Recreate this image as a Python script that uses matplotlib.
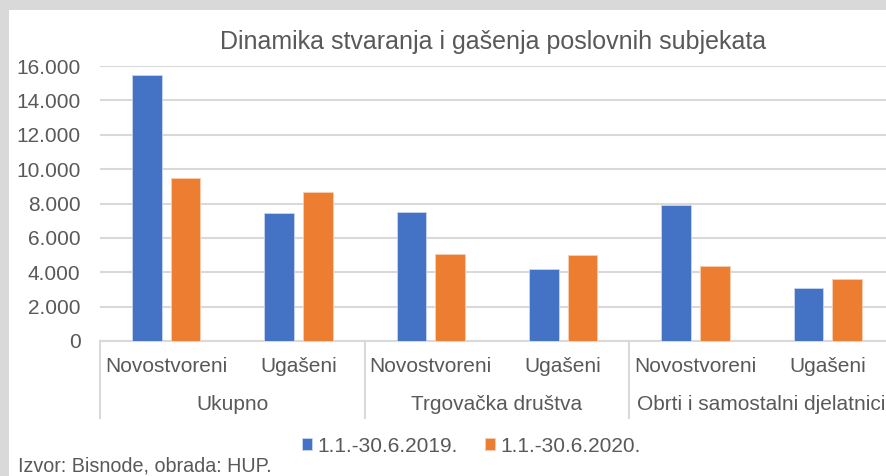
import matplotlib.pyplot as plt
from matplotlib.patches import Rectangle
from matplotlib.transforms import blended_transform_factory
import numpy as np

# ============== data ==============
sub_labels = ['Novostvoreni', 'Ugašeni', 'Novostvoreni', 'Ugašeni', 'Novostvoreni', 'Ugašeni']
group_labels = ['Ukupno', 'Trgovačka društva', 'Obrti i samostalni djelatnici']
series_names = ['1.1.-30.6.2019.', '1.1.-30.6.2020.']
v2019 = [15500, 7450, 7500, 4200, 7900, 3100]
v2020 = [9500, 8650, 5050, 5000, 4350, 3600]
y_ticks = [0, 2000, 4000, 6000, 8000, 10000, 12000, 14000, 16000]

BLUE = '#4472C4'
ORANGE = '#ED7D31'
TXT = '#595959'
GRID = '#d9d9d9'
FS = 15

plt.rcParams['font.family'] = ['Liberation Sans', 'DejaVu Sans']

W, H = 887, 476
fig = plt.figure(figsize=(W / 100, H / 100), dpi=100)
fig.patch.set_facecolor(GRID)
# white chart area (grey frame on top/left)
fig.patches.append(Rectangle((9 / W, 0), 1, (H - 10) / H, transform=fig.transFigure,
                             facecolor='white', edgecolor='none', zorder=-5))

ax = fig.add_axes([100 / W, (H - 341) / H, 794 / W, 275 / H])
ax.set_facecolor('none')

x = np.arange(len(sub_labels))
off, bw = 0.146, 0.223
b1 = ax.bar(x - off, v2019, bw, color=BLUE, edgecolor='#c9d6ee', linewidth=0.6, zorder=3,
            label=series_names[0])
b2 = ax.bar(x + off, v2020, bw, color=ORANGE, edgecolor='#f8cfb3', linewidth=0.6, zorder=3,
            label=series_names[1])

ax.set_xlim(-0.5, 5.5)
ax.set_ylim(0, 16000)
ax.set_yticks(y_ticks)
ax.set_yticklabels([f'{v:,}'.replace(',', '.') for v in y_ticks], fontsize=FS, color=TXT)
ax.tick_params(axis='y', length=0, pad=14)
ax.set_xticks([])
ax.yaxis.grid(True, color=GRID, linewidth=1.5, zorder=0)
ax.set_axisbelow(True)
for s in ['top', 'right', 'left']:
    ax.spines[s].set_visible(False)
ax.spines['bottom'].set_color(GRID)
ax.spines['bottom'].set_linewidth(1.5)

# multi-level category axis
tr = blended_transform_factory(ax.transData, ax.transAxes)
for i, lab in enumerate(sub_labels):
    ax.text(i, -26 / 275, lab, transform=tr, ha='center', va='center',
            fontsize=FS, color=TXT, clip_on=False)
for g, lab in enumerate(group_labels):
    ax.text(2 * g + 0.5, -64 / 275, lab, transform=tr, ha='center', va='center',
            fontsize=FS, color=TXT, clip_on=False)
for xs in [-0.5, 1.5, 3.5, 5.5]:
    ax.plot([xs, xs], [0, -77 / 275], transform=tr, color=GRID, linewidth=1.5,
            clip_on=False, zorder=1)

fig.text(493.5 / W, 1 - 42 / H, 'Dinamika stvaranja i gašenja poslovnih subjekata',
         ha='center', va='center', fontsize=18, color=TXT)

fig.legend(handles=[b1, b2], loc='center', bbox_to_anchor=(471.5 / W, 1 - 446 / H),
           ncol=2, frameon=False, fontsize=FS, handlelength=0.5, handleheight=0.5,
           handletextpad=0.25, columnspacing=1.3, labelcolor=TXT)

fig.text(18 / W, 1 - 466 / H, 'Izvor: Bisnode, obrada: HUP.', ha='left', va='center',
         fontsize=14.2, color=TXT)

fig.savefig('out.png', dpi=100)
